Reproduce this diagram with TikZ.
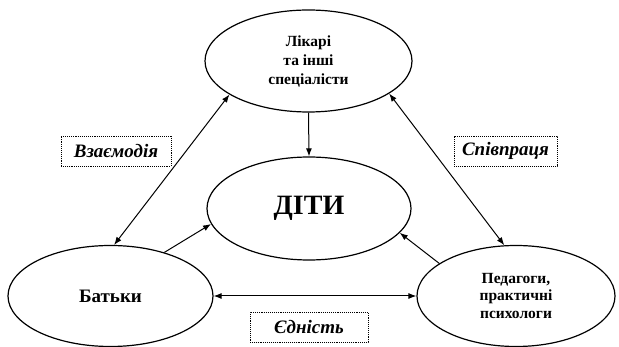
\documentclass[tikz,border=0pt]{standalone}
\usepackage{fontspec}
\setmainfont{Liberation Serif}
\usepackage{tikz}
\usetikzlibrary{positioning, arrows.meta, calc, shapes.geometric}
\tikzset{
  oval/.style={draw, ellipse, line width=1.2pt, inner sep=0pt, align=center, font=\bfseries\fontsize{15.5}{19}\selectfont},
  linkbox/.style={draw, densely dotted, line width=0.9pt, inner sep=0pt, font=\bfseries\itshape\fontsize{19}{21}\selectfont},
  tip/.style={line width=1pt, -{Latex[length=8pt,width=6pt]}},
  twotip/.style={line width=1pt, {Latex[length=8pt,width=6pt]}-{Latex[length=8pt,width=6pt]}}
}

\begin{document}
\begin{tikzpicture}[x=1pt, y=-1pt]
  \useasboundingbox (0,0) rectangle (619,347);
  \node[oval, minimum width=207pt, minimum height=102pt] (likari) at (308.5,61) {Лікарі\\та інші\\спеціалісти};
  \node[oval, minimum width=204pt, minimum height=103pt, font=\bfseries\fontsize{28}{30}\selectfont] (dity) at (309,208.5) {ДІТИ};
  \node[oval, minimum width=205pt, minimum height=101pt, font=\bfseries\fontsize{19}{21}\selectfont] (batky) at (110.5,296) {Батьки};
  \node[oval, minimum width=198pt, minimum height=101pt, font=\bfseries\fontsize{15.5}{17.5}\selectfont] (pedagogy) at (516,296) {Педагоги,\\практичні\\психологи};

  \node[linkbox, minimum width=110pt, minimum height=30pt] (vzaiem) at (116,151) {Взаємодія};
  \node[linkbox, minimum width=103pt, minimum height=30pt] (spivpr) at (505.5,151) {Співпраця};
  \node[linkbox, minimum width=118pt, minimum height=30pt] (yednist) at (309,327) {Єдність};

  \draw[tip] (likari.south) -- (dity.north);
  \draw[twotip] (likari.203) -- (batky.86);
  \draw[twotip] (likari.338) -- (pedagogy.103);
  \draw[tip] (batky.39) -- (dity.189);
  \draw[tip] (pedagogy.157) -- (dity.345);
  \draw[twotip] (batky.east) -- (pedagogy.west);
\end{tikzpicture}
\end{document}
